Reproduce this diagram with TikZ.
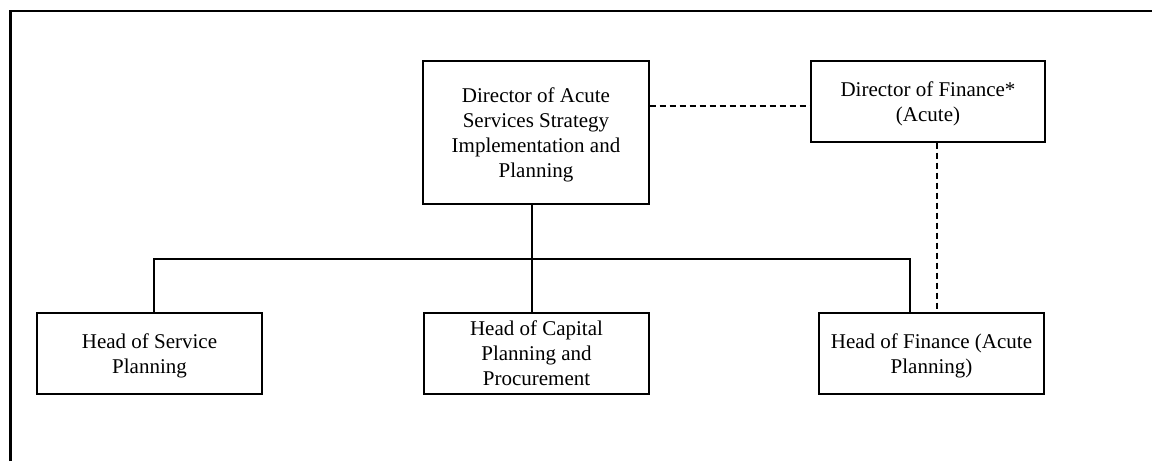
\documentclass[tikz,border=0pt]{standalone}
\usepackage{fontspec}
\setmainfont{Liberation Serif}
\begin{document}
\begin{tikzpicture}[x=1pt,y=-1pt,
  box/.style={draw,line width=1.1pt,inner sep=0pt,align=center,text depth=0pt,
    font=\fontsize{21}{25}\selectfont},
  dashline/.style={line width=1.4pt,dash pattern=on 6pt off 4pt},
  solidline/.style={line width=1.1pt}]
\useasboundingbox (0,0) rectangle (1152,461);
\draw[line width=2.2pt] (10.5,461) -- (10.5,11) -- (1152,11);
\node[box,minimum width=226pt,minimum height=143pt] (dir) at (536,132.5)
  {Director of Acute\\Services Strategy\\Implementation and\\Planning};
\node[box,minimum width=234pt,minimum height=81pt] (dfin) at (928,101.5)
  {Director of Finance*\\(Acute)};
\node[box,minimum width=225pt,minimum height=81pt] (hsp) at (149.5,353.5)
  {Head of Service\\Planning};
\node[box,minimum width=225pt,minimum height=81pt] (hcp) at (536.5,353.5)
  {Head of Capital\\Planning and\\Procurement};
\node[box,minimum width=225pt,minimum height=81pt] (hfin) at (931.5,353.5)
  {Head of Finance (Acute\\Planning)};
\coordinate (busL) at (154,259);
\coordinate (busM) at (532,259);
\coordinate (busR) at (910,259);
\coordinate (vdash) at (937,200);
\draw[solidline] (dir.south -| busM) -- (busM);
\draw[solidline] (hsp.north -| busL) |- (busR) -- (hfin.north -| busR);
\draw[solidline] (busM) -- (hcp.north -| busM);
\draw[dashline] (dir.east |- 0,106) -- (dfin.west |- 0,106);
\draw[dashline] (dfin.south -| vdash) -- (hfin.north -| vdash);
\end{tikzpicture}
\end{document}
